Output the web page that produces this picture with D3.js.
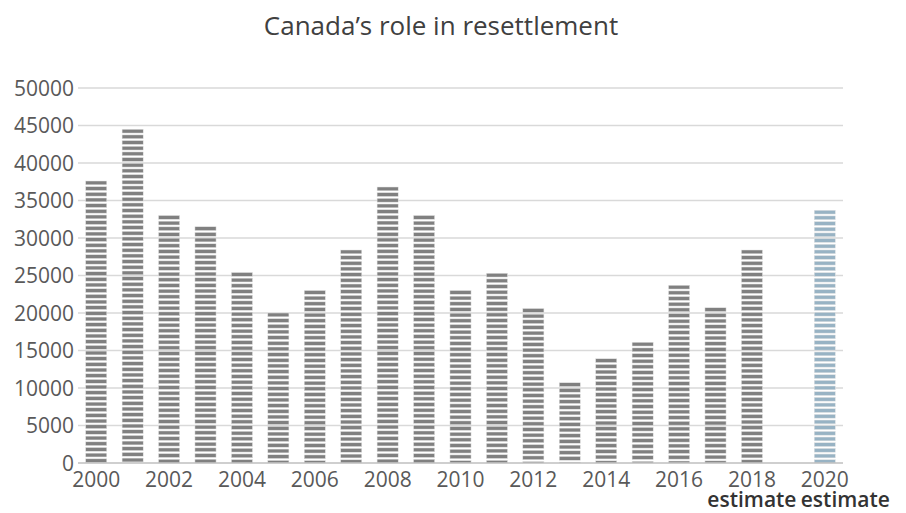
<!DOCTYPE html>
<html>
<head>
<meta charset="utf-8">
<script src="https://cdn.jsdelivr.net/npm/d3@7"></script>
<style>
  html, body { margin: 0; padding: 0; background: #fff; }
  svg { display: block; }
  text { font-family: "Open Sans", "Noto Sans", sans-serif; }
</style>
</head>
<body>
<svg id="chart" width="906" height="513"></svg>
<script>
// ---- data ----
const years = ["2000","2001","2002","2003","2004","2005","2006","2007","2008","2009",
               "2010","2011","2012","2013","2014","2015","2016","2017","2018","2019","2020"];
const values = [37600, 44500, 33000, 31500, 25400, 20000, 23000, 28400, 36800, 33000,
                23000, 25300, 20600, 10700, 13900, 16100, 23700, 20700, 28400, null, 33700];
const estimateYears = ["2020"];
const yTicks = [0, 5000, 10000, 15000, 20000, 25000, 30000, 35000, 40000, 45000, 50000];
const xTickLabels = ["2000","2002","2004","2006","2008","2010","2012","2014","2016","2018","2020"];
const subLabels = [{year: "2018", text: "estimate", align: "middle"},
                   {year: "2020", text: "estimate", align: "start"}];
const title = "Canada\u2019s role in resettlement";

// ---- layout ----
const svg = d3.select("#chart");
const mLeft = 78, mRight = 843, mTop = 88, mBottom = 463;

const x = d3.scaleBand().domain(years).range([mLeft, mRight]).paddingInner(0.42).paddingOuter(0.21);
const y = d3.scaleLinear().domain([0, 50000]).range([mBottom, mTop]);

// title
svg.append("text")
  .attr("x", 441).attr("y", 35)
  .attr("text-anchor", "middle")
  .attr("font-size", 26)
  .attr("fill", "#404040")
  .text(title);

// gridlines
svg.append("g").selectAll("line")
  .data(yTicks.filter(d => d > 0))
  .join("line")
  .attr("x1", mLeft).attr("x2", mRight)
  .attr("y1", d => y(d)).attr("y2", d => y(d))
  .attr("stroke", "#d9d9d9").attr("stroke-width", 1.3);

// y labels
svg.append("g").selectAll("text")
  .data(yTicks)
  .join("text")
  .attr("x", mLeft - 4)
  .attr("y", d => y(d) + 7.5)
  .attr("text-anchor", "end")
  .attr("font-size", 21)
  .attr("fill", "#595959")
  .text(d => d);

// bars as horizontal stripes
const period = 5.67, stripeH = 3.8;
const barData = years.map((yr, i) => ({year: yr, value: values[i]})).filter(d => d.value != null);
const barG = svg.append("g");
barData.forEach(d => {
  const col = estimateYears.includes(d.year) ? "#98b3c4" : "#808080";
  const y0 = y(d.value), y1 = y(0);
  const stripes = d3.range(y0, y1, period);
  barG.append("g").selectAll("rect")
    .data(stripes)
    .join("rect")
    .attr("x", x(d.year))
    .attr("width", x.bandwidth())
    .attr("y", s => s)
    .attr("height", s => Math.min(stripeH, y1 - s))
    .attr("fill", col)
    .attr("stroke", "#e6e6e6")
    .attr("stroke-width", 0.5);
});

// x axis line
svg.append("line")
  .attr("x1", mLeft).attr("x2", mRight)
  .attr("y1", mBottom).attr("y2", mBottom)
  .attr("stroke", "#bfbfbf").attr("stroke-width", 1.5);

// x labels
const xl = svg.append("g").selectAll("text")
  .data(xTickLabels)
  .join("text")
  .attr("x", d => x(d) + x.bandwidth() / 2)
  .attr("y", 487)
  .attr("text-anchor", "middle")
  .attr("font-size", 21)
  .attr("fill", "#595959")
  .text(d => d);

const labelW = {};
xl.each(function(d) { labelW[d] = this.getComputedTextLength(); });

svg.append("g").selectAll("text")
  .data(subLabels)
  .join("text")
  .attr("x", d => d.align === "middle" ? x(d.year) + x.bandwidth() / 2
                                        : x(d.year) + x.bandwidth() / 2 - labelW[d.year] / 2)
  .attr("y", 507)
  .attr("text-anchor", d => d.align)
  .attr("font-size", 21)
  .attr("font-weight", 600)
  .attr("fill", "#333333")
  .text(d => d.text);
</script>
</body>
</html>
